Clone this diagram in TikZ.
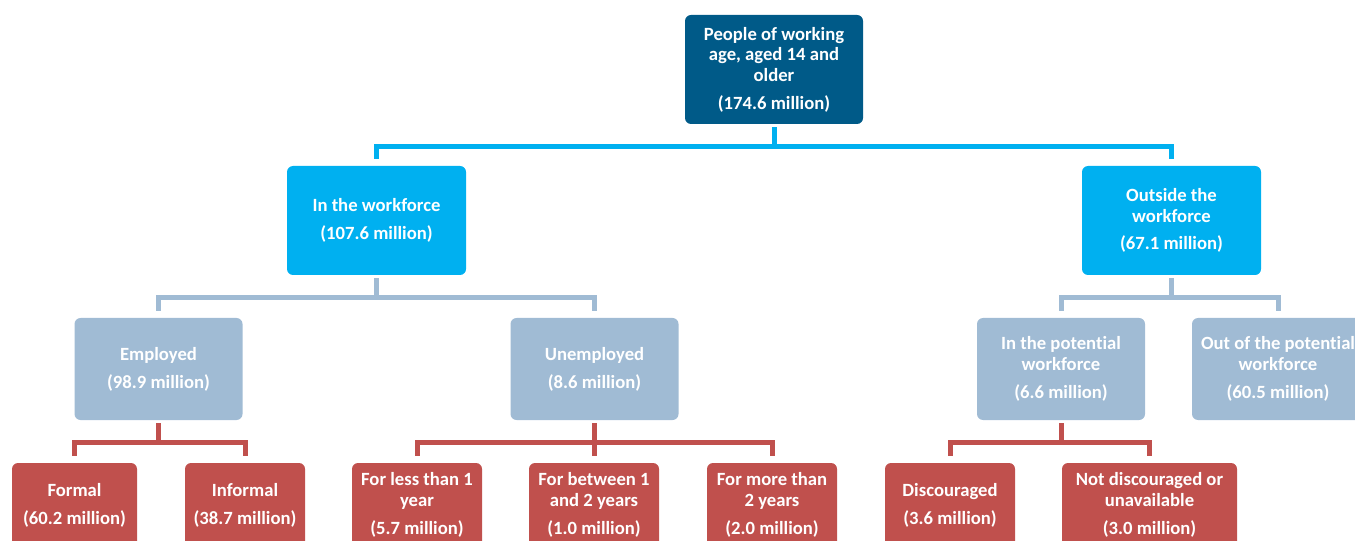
\documentclass[tikz,border=0pt]{standalone}
\usepackage{fontspec}
\setmainfont{Carlito}[Ligatures=NoCommon]
\definecolor{topblue}{RGB}{0,90,136}
\definecolor{brightblue}{RGB}{0,176,240}
\definecolor{steelblue}{RGB}{160,187,212}
\definecolor{brickred}{RGB}{192,80,77}
\tikzstyle{box}=[rounded corners=4.5pt, text=white, align=center, inner sep=0pt,
	font=\bfseries\fontsize{14}{15.5}\selectfont]
\tikzstyle{rootbox}=[box, fill=topblue, minimum width=133.5pt, minimum height=81.75pt]
\tikzstyle{groupbox}=[box, fill=brightblue, minimum width=134.25pt, minimum height=81.75pt]
\tikzstyle{partbox}=[box, fill=steelblue, minimum width=126pt, minimum height=76.5pt]
\tikzstyle{leafbox}=[box, fill=brickred, minimum width=97.5pt, minimum height=63pt]
\tikzstyle{branch}=[line width=3.75pt, shorten <=2.25pt, shorten >=5.25pt,
	every edge/.style={draw, to path={-- ++(0,22) -| (\tikztotarget)}}]
\newcommand{\gap}{\\[5.4pt]}

\begin{document}
\begin{tikzpicture}[x=0.75pt, y=-0.75pt]
	\clip (0,0) rectangle (1355,541);
	%% the root and the two groups
	\node[rootbox] (root) at (774,69.5) {People of working\\ age, aged 14 and\\ older\gap (174.6 million)};
	\node[groupbox] (work) at (376.5,220.5) {In the workforce\gap (107.6 million)};
	\node[groupbox] (outside) at (1171.5,220.5) {Outside the\\ workforce\gap (67.1 million)};
	%% the second level
	\node[partbox] (employed) at (158.5,369) {Employed\gap (98.9 million)};
	\node[partbox] (unemployed) at (594.5,369) {Unemployed\gap (8.6 million)};
	\node[partbox] (potential) at (1061,369) {In the potential\\ workforce\gap (6.6 million)};
	\node[partbox, minimum width=129pt] (outpotential) at (1278,369) {Out of the potential\\ workforce\gap (60.5 million)};
	%% the leaves
	\node[leafbox, minimum width=93.75pt] (formal) at (74.5,505) {Formal\gap (60.2 million)};
	\node[leafbox, minimum width=90pt] (informal) at (245,505) {Informal\gap (38.7 million)};
	\node[leafbox] (lessone) at (417,505) {For less than 1\\ year\gap (5.7 million)};
	\node[leafbox] (onetwo) at (594,505) {For between 1\\ and 2 years\gap (1.0 million)};
	\node[leafbox] (moretwo) at (772,505) {For more than\\ 2 years\gap (2.0 million)};
	\node[leafbox] (discouraged) at (950,505) {Discouraged\gap (3.6 million)};
	\node[leafbox, minimum width=131.25pt] (notdisc) at (1149.5,505) {Not discouraged or\\ unavailable\gap (3.0 million)};
	%% for the connectors
	\path[branch, brightblue]
		(root.south) edge (work.north)
		(root.south) edge (outside.north)
		;
	\path[branch, steelblue]
		(work.south) edge (employed.north)
		(work.south) edge (unemployed.north)
		(outside.south) edge (potential.north)
		(outside.south) edge (outpotential.north)
		;
	\path[branch, brickred]
		(employed.south) edge (formal.north)
		(employed.south) edge (informal.north)
		(unemployed.south) edge (lessone.north)
		(unemployed.south) edge (onetwo.north)
		(unemployed.south) edge (moretwo.north)
		(potential.south) edge (discouraged.north)
		(potential.south) edge (notdisc.north)
		;
\end{tikzpicture}
\end{document}
